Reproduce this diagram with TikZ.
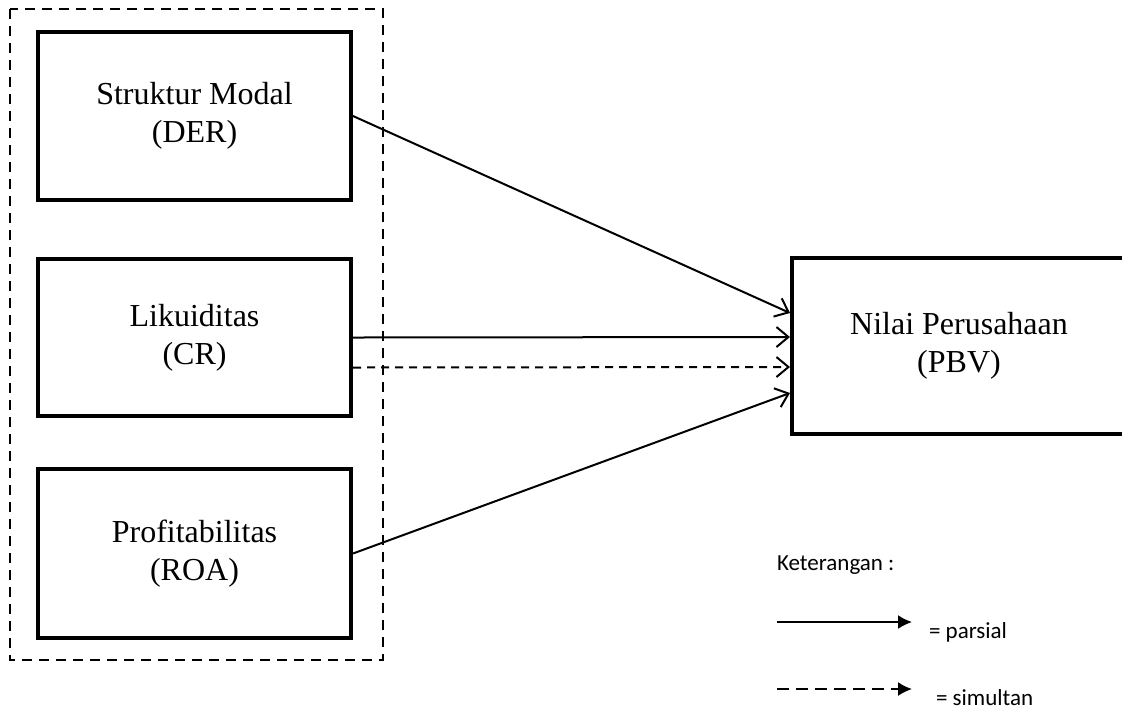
\documentclass[tikz,border=0pt]{standalone}
\usepackage{fontspec}
\setmainfont{Liberation Serif}
\newfontfamily\legendfont{Carlito}
\usetikzlibrary{
    arrows.meta,
    calc,
    positioning
}

\tikzset{
    var/.style={draw, line width=2pt, minimum width=156.5pt, align=center,
        font=\fontsize{16}{19}\selectfont},
    parsial/.style={line width=1pt, -{Straight Barb[length=6pt, width=10pt, line width=1pt]}},
    simultan/.style={parsial, dash pattern=on 4pt off 3pt},
    legend/.style={font=\legendfont\fontsize{11.5}{14}\selectfont, anchor=west}
}

\begin{document}
\begin{tikzpicture}[x=0.5pt, y=-0.5pt]
                        \useasboundingbox (0, 0) rectangle (1122, 708);
                        \draw[line width=1pt, dash pattern=on 5pt off 3.5pt] (10, 9) rectangle (383, 660);
                        \node[var, minimum height=84pt] (der) at (194.5, 116) {Struktur Modal\\(DER)};
                        \node[var, minimum height=78.5pt] (cr) at (194.5, 337.5) {Likuiditas\\(CR)};
                        \node[var, minimum height=84.5pt] (roa) at (194.5, 553.5) {Profitabilitas\\(ROA)};
                        \node[var, minimum height=88pt, minimum width=167pt] (pbv) at (959, 346) {Nilai Perusahaan\\(PBV)};
                        \draw
                        (der.east) edge[parsial] ($(pbv.west)+(0, -33)$)
                        (cr.east) edge[parsial] ($(pbv.west)+(0, -9)$)
                        ($(cr.east)+(0, 30)$) edge[simultan] ($(pbv.west)+(0, 21)$)
                        (roa.east) edge[parsial] ($(pbv.west)+(0, 47)$);
                        % keterangan
                        \node[legend] (ket) at (770, 565) {Keterangan :};
                        \coordinate (p0) at (777, 622);
                        \coordinate (p1) at (912, 622);
                        \coordinate (s0) at (777, 689);
                        \coordinate (s1) at (912, 689);
                        \draw[line width=0.9pt, -{Latex[length=7pt, width=7pt]}] (p0) -- (p1);
                        \draw[line width=0.9pt, dash pattern=on 6pt off 3.5pt, -{Latex[length=7pt, width=7pt]}] (s0) -- (s1);
                        \node[legend] (par) at (922, 632) {= parsial};
                        \node[legend] (sim) at (929, 698) {= simultan};
                    \end{tikzpicture}
\end{document}
